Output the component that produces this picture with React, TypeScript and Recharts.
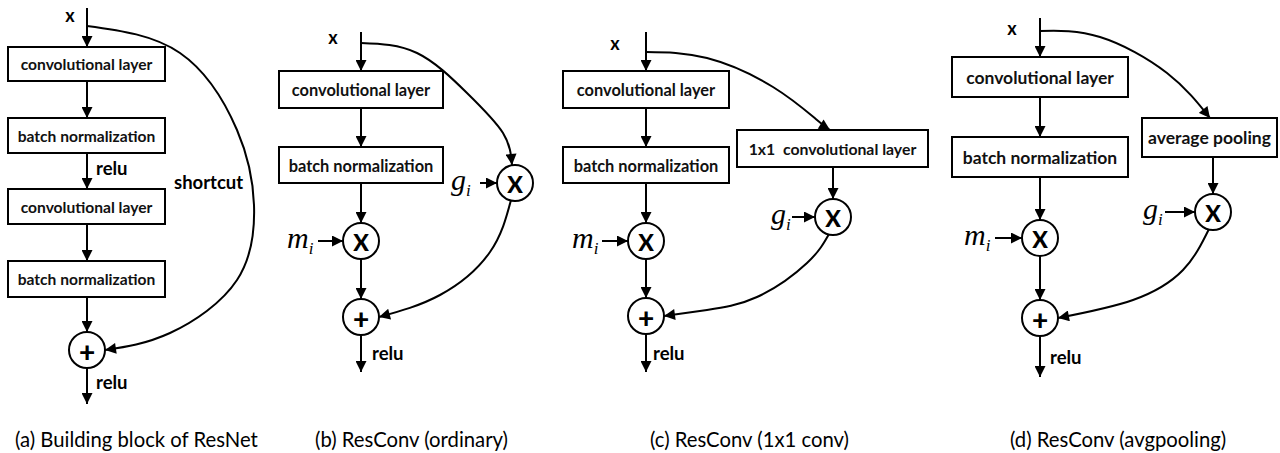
import React from 'react';
import { ComposedChart, XAxis, YAxis, Line, Scatter, ReferenceArea } from 'recharts';

const W = 1280;
const H = 453;
const SANS = 'Lato, "Open Sans", sans-serif';
const SERIF = '"Liberation Serif", "DejaVu Serif", serif';

// block boxes, in figure coordinates
const boxes = [
  { panel: 'a', x1: 8, x2: 165, y1: 47, y2: 81, label: 'convolutional layer' },
  { panel: 'a', x1: 8, x2: 165, y1: 118, y2: 153, label: 'batch normalization' },
  { panel: 'a', x1: 8, x2: 165, y1: 189, y2: 224, label: 'convolutional layer' },
  { panel: 'a', x1: 8, x2: 165, y1: 261, y2: 297, label: 'batch normalization' },
  { panel: 'b', x1: 279, x2: 443, y1: 71, y2: 108, label: 'convolutional layer' },
  { panel: 'b', x1: 279, x2: 443, y1: 147, y2: 183, label: 'batch normalization' },
  { panel: 'c', x1: 563, x2: 729, y1: 71, y2: 108, label: 'convolutional layer' },
  { panel: 'c', x1: 563, x2: 729, y1: 147, y2: 183, label: 'batch normalization' },
  { panel: 'c1', x1: 737, x2: 928, y1: 130, y2: 167, label: '1x1  convolutional layer' },
  { panel: 'd', x1: 952, x2: 1128, y1: 57, y2: 97, label: 'convolutional layer' },
  { panel: 'd', x1: 952, x2: 1128, y1: 137, y2: 177, label: 'batch normalization' },
  { panel: 'd', x1: 1142, x2: 1277, y1: 118, y2: 157, label: 'average pooling' },
];

// straight arrows [x1, y1, x2, y2]
const arrows = [
  [87, 8, 87, 47], [87, 81, 87, 118], [87, 153, 87, 189], [87, 224, 87, 261], [87, 297, 87, 332], [87, 368, 87, 404],
  [361, 32, 361, 71], [361, 108, 361, 147], [361, 183, 361, 223], [361, 259, 361, 299], [361, 335, 361, 372],
  [318, 241, 343, 241], [480, 183, 497, 183],
  [646, 32, 646, 71], [646, 108, 646, 147], [646, 183, 646, 223], [646, 259, 646, 298], [646, 334, 646, 372],
  [602, 241, 628, 241], [833, 167, 833, 199], [792, 217, 815, 217],
  [1040, 18, 1040, 57], [1040, 97, 1040, 137], [1040, 177, 1040, 220], [1040, 256, 1040, 300], [1040, 336, 1040, 377],
  [995, 238, 1022, 238], [1213, 157, 1213, 194], [1165, 212, 1195, 212],
];

// curved connections, points
const shortcutA = [[87, 26], [180, 53], [237, 130], [254, 205], [237, 280], [170, 333], [105, 350]];
const skipB = [[361, 43], [417, 53], [467, 93], [503, 133], [512, 165]];
const gateB = [[511, 200], [490, 252], [440, 295], [379, 317]];
const skipC = [[646, 52], [707, 58], [773, 87], [817, 120], [830, 130]];
const gateC = [[829, 234], [807, 263], [757, 297], [707, 310], [664, 316]];
const skipD = [[1040, 31], [1100, 37], [1167, 73], [1210, 118]];
const gateD = [[1209, 229], [1183, 270], [1133, 300], [1058, 318]];
const curves = [shortcutA, skipB, gateB, skipC, gateC, skipD, gateD];

// operator nodes
const ops = [
  { x: 87, y: 350, sym: '+' },
  { x: 361, y: 241, sym: 'X' }, { x: 361, y: 317, sym: '+' }, { x: 515, y: 183, sym: 'X' },
  { x: 646, y: 241, sym: 'X' }, { x: 646, y: 316, sym: '+' }, { x: 833, y: 217, sym: 'X' },
  { x: 1040, y: 238, sym: 'X' }, { x: 1040, y: 318, sym: '+' }, { x: 1213, y: 212, sym: 'X' },
];

const inputs = [{ x: 70, y: 15 }, { x: 333, y: 37 }, { x: 615, y: 43 }, { x: 1012, y: 28 }];
const notes = [
  { x: 96, y: 168, text: 'relu' }, { x: 174, y: 182, text: 'shortcut' }, { x: 96, y: 382, text: 'relu' },
  { x: 372, y: 353, text: 'relu' }, { x: 653, y: 353, text: 'relu' }, { x: 1050, y: 357, text: 'relu' },
];
const gates = [
  { x: 287, y: 248, text: 'm' }, { x: 572, y: 248, text: 'm' }, { x: 964, y: 245, text: 'm' },
  { x: 451, y: 190, text: 'g' }, { x: 771, y: 224, text: 'g' }, { x: 1143, y: 219, text: 'g' },
];
const captions = [
  { x: 15, y: 439, text: '(a) Building block of ResNet' },
  { x: 315, y: 439, text: '(b) ResConv (ordinary)' },
  { x: 650, y: 439, text: '(c) ResConv (1x1 conv)' },
  { x: 1010, y: 439, text: '(d) ResConv (avgpooling)' },
];

const boxFont: Record<string, number> = { a: 15.6, b: 16.4, c: 16.4, c1: 15.8, d: 17.5 };

const toPts = (p: number[][]) => p.map(([x, y]) => ({ x, y }));

const boxShape = (label: string, fs: number) => (p: any) => (
  <g>
    <rect x={p.x} y={p.y} width={p.width} height={p.height} fill="#fff" stroke="#000" strokeWidth={2} />
    <text
      x={p.x + p.width / 2}
      y={p.y + p.height / 2}
      textAnchor="middle"
      dominantBaseline="central"
      fontFamily={SANS}
      fontWeight={700}
      fontSize={fs}
      fill="#111"
      style={{ whiteSpace: 'pre' }}
    >
      {label}
    </text>
  </g>
);

const opShape = (p: any) => (
  <g>
    <circle cx={p.cx} cy={p.cy} r={18} fill="#fff" stroke="#000" strokeWidth={2} />
    <text x={p.cx} y={p.cy + 1} textAnchor="middle" dominantBaseline="central" fontFamily={SANS} fontWeight={900} fontSize={p.payload.sym === '+' ? 28 : 23} fill="#000">
      {p.payload.sym}
    </text>
  </g>
);

const inputShape = (p: any) => (
  <text x={p.cx} y={p.cy} textAnchor="middle" dominantBaseline="central" fontFamily={SANS} fontWeight={700} fontSize={18} fill="#000">x</text>
);

const noteShape = (p: any) => (
  <text x={p.cx} y={p.cy} dominantBaseline="central" fontFamily={SANS} fontWeight={700} fontSize={18.5} fill="#000">{p.payload.text}</text>
);

const gateShape = (p: any) => (
  <text x={p.cx} y={p.cy} fontFamily={SERIF} fontStyle="italic" fontSize={30} fill="#000">
    {p.payload.text}
    <tspan fontSize={17} dy={6}>i</tspan>
  </text>
);

const captionShape = (p: any) => (
  <text x={p.cx} y={p.cy} dominantBaseline="central" fontFamily={SANS} fontSize={20.3} fill="#000">{p.payload.text}</text>
);

export default function App() {
  return (
    <div style={{ position: 'absolute', left: 0, top: 0, width: W, height: H, background: '#fff' }}>
      <svg width={0} height={0} style={{ position: 'absolute' }}>
        <defs>
          <marker id="ah" viewBox="0 0 12 12" refX={12} refY={6} markerWidth={12} markerHeight={11} markerUnits="userSpaceOnUse" orient="auto">
            <path d="M0,0 L12,6 L0,12 z" fill="#000" />
          </marker>
        </defs>
      </svg>
      <ComposedChart width={W} height={H} margin={{ top: 0, right: 0, bottom: 0, left: 0 }}>
        <XAxis type="number" dataKey="x" domain={[0, W]} hide allowDataOverflow />
        <YAxis type="number" dataKey="y" domain={[0, H]} reversed hide allowDataOverflow />
        {arrows.map((a, i) => (
          <Line
            key={`ar-${i}`}
            data={toPts([[a[0], a[1]], [a[2], a[3]]])}
            dataKey="y"
            type="linear"
            stroke="#000"
            strokeWidth={2}
            dot={false}
            activeDot={false}
            markerEnd="url(#ah)"
            isAnimationActive={false}
          />
        ))}
        {curves.map((c, i) => (
          <Line
            key={`cv-${i}`}
            data={toPts(c)}
            dataKey="y"
            type="natural"
            stroke="#000"
            strokeWidth={2}
            dot={false}
            activeDot={false}
            markerEnd="url(#ah)"
            isAnimationActive={false}
          />
        ))}
        {boxes.map((b, i) => (
          <ReferenceArea
            key={`bx-${i}`}
            x1={b.x1}
            x2={b.x2}
            y1={b.y1}
            y2={b.y2}
            ifOverflow="visible"
            shape={boxShape(b.label, boxFont[b.panel])}
          />
        ))}
        <Scatter data={ops} shape={opShape} isAnimationActive={false} />
        <Scatter data={inputs} shape={inputShape} isAnimationActive={false} />
        <Scatter data={notes} shape={noteShape} isAnimationActive={false} />
        <Scatter data={gates} shape={gateShape} isAnimationActive={false} />
        <Scatter data={captions} shape={captionShape} isAnimationActive={false} />
      </ComposedChart>
    </div>
  );
}
